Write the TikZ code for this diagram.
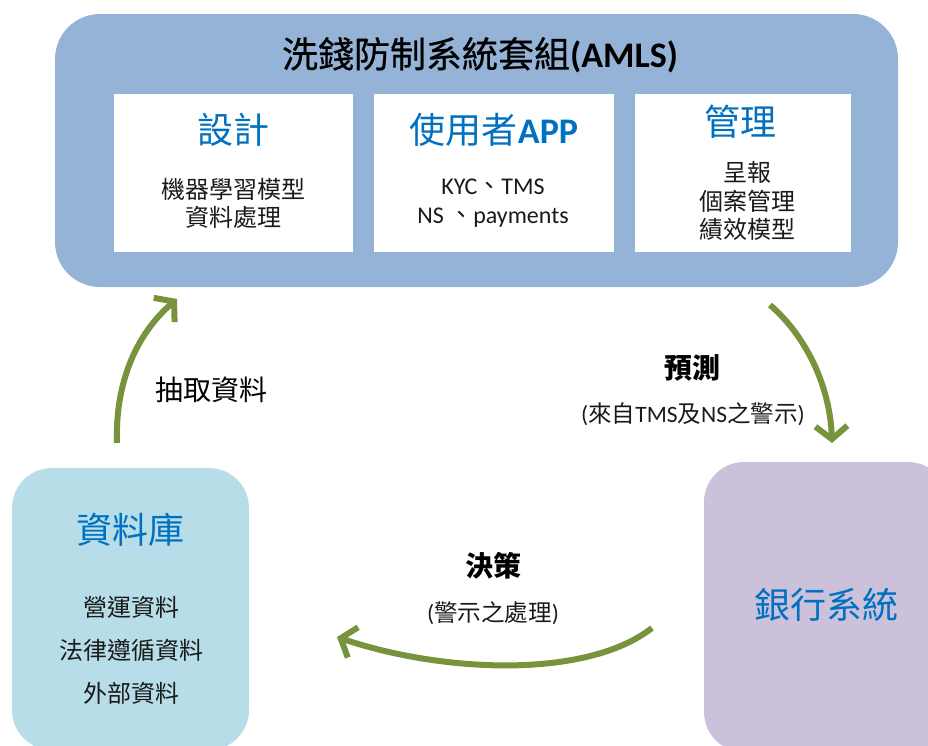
\documentclass[tikz,border=0pt]{standalone}
\usepackage{fontspec}
\setmainfont{Carlito}
\newfontfamily\cjk{Noto Sans CJK TC}
\newfontfamily\cjkt{Noto Sans CJK TC}[FakeBold=0.6]
\newcommand\zh[1]{{\cjk #1}}
\usetikzlibrary{arrows.meta}
\definecolor{topblue}{HTML}{95B3D7}
\definecolor{dbblue}{HTML}{B7DDE8}
\definecolor{banklilac}{HTML}{CCC1DA}
\definecolor{arrgreen}{HTML}{77933C}
\definecolor{headblue}{HTML}{0070C0}
\definecolor{txt}{HTML}{1A1A1A}
\begin{document}
\begin{tikzpicture}[x=1pt,y=-1pt,
  panel/.style={inner sep=0pt, outer sep=0pt},
  whitebox/.style={panel, fill=white, minimum height=158pt},
  heading/.style={text=headblue, font=\fontsize{36}{40}\selectfont, inner sep=0pt},
  body/.style={text=txt, align=center, inner sep=0pt},
  lbl/.style={text=black, inner sep=0pt, font=\fontsize{28}{30}\selectfont},
  sublbl/.style={text=txt, inner sep=0pt, font=\fontsize{23.5}{26}\selectfont},
  arr/.style={draw=arrgreen, line width=6pt, -{Straight Barb[length=13pt,width=32pt]}}
]
\useasboundingbox (0,0) rectangle (928,745);
\clip (0,0) rectangle (928,745);

% main panels
\node[panel, fill=topblue, rounded corners=45pt, minimum width=843pt, minimum height=273pt] (aml) at (476.5,150.5) {};
\node[panel, fill=dbblue, rounded corners=40pt, minimum width=237pt, minimum height=282pt] (db) at (130.5,609) {};
\node[panel, fill=banklilac, rounded corners=40pt, minimum width=244pt, minimum height=290pt] (bank) at (826,607) {};

% inner white boxes
\node[whitebox, minimum width=239pt] (design) at (233.5,173) {};
\node[whitebox, minimum width=240pt] (app) at (494,173) {};
\node[whitebox, minimum width=216pt] (mgmt) at (743,173) {};

% title
\node[inner sep=0pt, text=black, font=\fontsize{36}{40}\selectfont] (title) at (480,55) {{\cjkt 洗錢防制系統套組}\textbf{(AMLS)}};

% headings
\node[heading] (h1) at (233.5,130) {\zh{設計}};
\node[heading] (h2) at (494,130) {\zh{使用者}\textbf{APP}};
\node[heading] (h3) at (740,122) {\zh{管理}};

% bodies
\node[body, font=\fontsize{24}{28}\selectfont] (t1) at (233.5,203) {\zh{機器學習模型}\\\zh{資料處理}};
\node[body, font=\fontsize{24}{29}\selectfont] (t2) at (493,203) {KYC\zh{、}TMS\\NS \zh{、}payments};
\node[body, font=\fontsize{24}{28.5}\selectfont] (t3) at (747,201) {\zh{呈報}\\\zh{個案管理}\\\zh{績效模型}};

% database
\node[heading] (h4) at (130,530) {\zh{資料庫}};
\node[body, font=\fontsize{24}{43}\selectfont] (t4) at (131,650) {\zh{營運資料}\\\zh{法律遵循資料}\\\zh{外部資料}};

% bank
\node[heading] (h5) at (826,605) {\zh{銀行系統}};

% labels
\node[lbl] (l1) at (211,390) {\zh{抽取資料}};
\node[lbl] (l2) at (692,368) {\zh{\bfseries 預測}};
\node[sublbl] (l3) at (693,414) {(\zh{來自}TMS\zh{及}NS\zh{之警示})};
\node[lbl] (l4) at (493,566) {\zh{\bfseries 決策}};
\node[sublbl] (l5) at (493,613) {(\zh{警示之處理})};

% arrow end points
\coordinate (a1s) at (117,443);
\coordinate (a1e) at (177,299);
\coordinate (a2s) at (770,305);
\coordinate (a2e) at (832,443);
\coordinate (a3s) at (652,628);
\coordinate (a3e) at (337,637);

\draw[arr] (a1s) .. controls (115,385) and (135,335) .. (a1e);
\draw[arr] (a2s) .. controls (805,335) and (830,385) .. (a2e);
\draw[arr] (a3s) .. controls (585,680) and (440,672) .. (a3e);
\end{tikzpicture}
\end{document}
